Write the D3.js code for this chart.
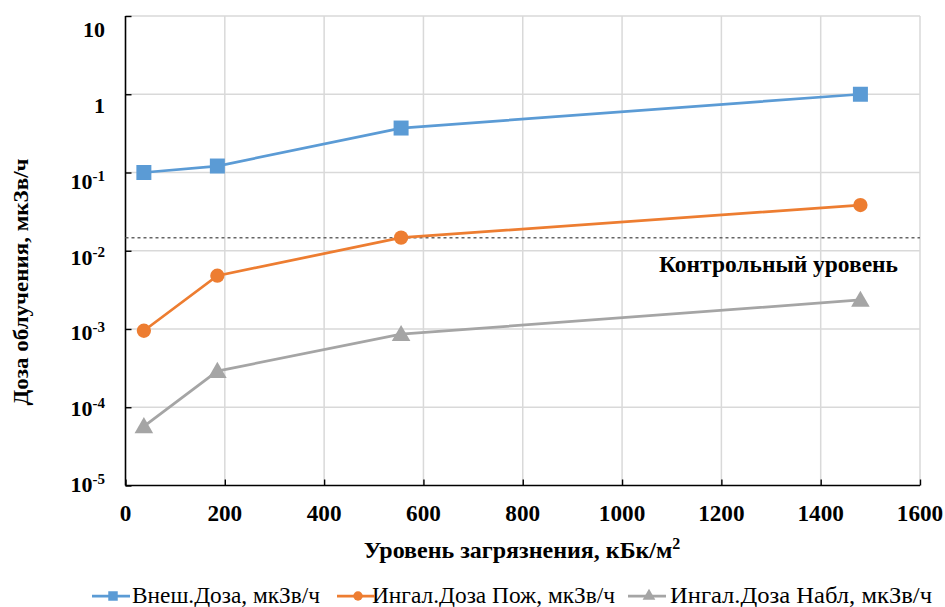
<!DOCTYPE html>
<html>
<head>
<meta charset="utf-8">
<script src="https://cdn.jsdelivr.net/npm/d3@7/dist/d3.min.js"></script>
<style>
  html, body { margin: 0; padding: 0; background: #fff; }
</style>
</head>
<body>
<svg id="chart" width="945" height="607"></svg>
<script>
// Contamination levels, kBq/m2
const levels = [37, 185, 555, 1480];
// Dose rates, uSv/h
const externalDose = [0.1, 0.121, 0.37, 1.0];
const inhalFire = [0.00095, 0.0048, 0.0147, 0.0384];
const inhalObserved = [0.000057, 0.00029, 0.00086, 0.00235];
const controlLevel = 0.0147;

const xTicks = [0, 200, 400, 600, 800, 1000, 1200, 1400, 1600];
const yTicks = [10, 1, 0.1, 0.01, 0.001, 0.0001, 0.00001];
const yTickExp = ["", "", "-1", "-2", "-3", "-4", "-5"];
const yTickBase = ["10", "1", "10", "10", "10", "10", "10"];

const seriesNames = ["Внеш.Доза, мкЗв/ч", "Ингал.Доза Пож, мкЗв/ч", "Ингал.Доза Набл, мкЗв/ч"];
const seriesColors = ["#5B9BD5", "#ED7D31", "#A5A5A5"];
const seriesSymbols = [d3.symbolSquare, d3.symbolCircle, d3.symbolTriangle];
const seriesValues = [externalDose, inhalFire, inhalObserved];

const FONT = "'Liberation Serif', 'Times New Roman', serif";
const svg = d3.select("#chart");
const plot = { left: 125.5, right: 920, top: 16, bottom: 485.5 };

const x = d3.scaleLinear().domain([0, 1600]).range([plot.left, plot.right]);
const y = d3.scaleLog().domain([1e-5, 10]).range([plot.bottom, plot.top]);
// label placement scale for the y tick texts
const yLab = d3.scaleLog().domain([1e-5, 10]).range([485, 30]);

// grid
const grid = svg.append("g").attr("stroke", "#D9D9D9").attr("stroke-width", 1.5);
grid.selectAll(".gx").data(xTicks.slice(1)).join("line")
  .attr("x1", d => x(d)).attr("x2", d => x(d)).attr("y1", plot.top).attr("y2", plot.bottom);
grid.selectAll(".gy").data(yTicks.slice(0, -1)).join("line")
  .attr("x1", plot.left).attr("x2", plot.right).attr("y1", d => y(d)).attr("y2", d => y(d));

// axes (inner ticks)
const xAxis = svg.append("g").attr("transform", `translate(0,${plot.bottom})`)
  .call(d3.axisBottom(x).tickValues(xTicks).tickSize(-6).tickFormat(""));
const yAxis = svg.append("g").attr("transform", `translate(${plot.left},0)`)
  .call(d3.axisLeft(y).tickValues(yTicks).tickSize(-6).tickFormat(""));
[xAxis, yAxis].forEach(a => {
  a.select(".domain").attr("stroke", "#000").attr("stroke-width", 1.6);
  a.selectAll(".tick line").attr("stroke", "#000").attr("stroke-width", 1.4);
  a.selectAll(".tick text").remove();
});
yAxis.select(".domain").attr("d", `M0,${plot.top}V${plot.bottom}`);
xAxis.select(".domain").attr("d", `M${plot.left},0H${plot.right}`);

// text layer
const labels = svg.append("g").style("font-family", FONT).attr("fill", "#000");

// x tick labels
labels.append("g").selectAll("text").data(xTicks).join("text")
  .style("font-family", FONT)
  .attr("x", d => x(d)).attr("y", 521)
  .attr("text-anchor", "middle")
  .style("font-weight", "bold").attr("font-size", 24)
  .attr("textLength", d => String(d).length * 11.6)
  .attr("lengthAdjust", "spacingAndGlyphs")
  .text(d => d);

// y tick labels with superscript exponents
const yl = labels.append("g").selectAll("text").data(yTicks).join("text")
  .style("font-family", FONT)
  .attr("x", 105).attr("y", d => yLab(d) + 7)
  .attr("text-anchor", "end")
  .style("font-weight", "bold").attr("font-size", 22);
yl.append("tspan").text((d, i) => yTickBase[i]);
yl.append("tspan").attr("font-size", 15).attr("dy", -8).text((d, i) => yTickExp[i]);

// control level
svg.append("line")
  .attr("x1", plot.left).attr("x2", plot.right)
  .attr("y1", y(controlLevel)).attr("y2", y(controlLevel))
  .attr("stroke", "#666").attr("stroke-width", 1.5).attr("stroke-dasharray", "3,3");
labels.append("text")
  .style("font-family", FONT)
  .attr("x", 659).attr("y", y(controlLevel) + 34)
  .style("font-weight", "bold").attr("font-size", 24)
  .attr("textLength", 239).attr("lengthAdjust", "spacingAndGlyphs")
  .text("Контрольный уровень");

// series
const line = d3.line().x(d => x(d[0])).y(d => y(d[1]));
seriesValues.forEach((vals, s) => {
  const pts = levels.map((l, i) => [l, vals[i]]);
  svg.append("path").datum(pts)
    .attr("d", line).attr("fill", "none")
    .attr("stroke", seriesColors[s]).attr("stroke-width", 2.75);
  const size = s === 0 ? 225 : (s === 1 ? 160 : 150);
  svg.append("g").selectAll("path").data(pts).join("path")
    .attr("transform", d => `translate(${x(d[0])},${y(d[1]) + (s === 2 ? 1.5 : 0)})`)
    .attr("d", d3.symbol().type(seriesSymbols[s]).size(size))
    .attr("fill", seriesColors[s]);
});

// axis titles
const xt = labels.append("text")
  .style("font-family", FONT)
  .attr("x", 522).attr("y", 558)
  .attr("text-anchor", "middle")
  .style("font-weight", "bold").attr("font-size", 24);
xt.append("tspan").text("Уровень загрязнения, кБк/м");
xt.append("tspan").attr("font-size", 16).attr("dy", -9).text("2");

labels.append("text")
  .style("font-family", FONT)
  .attr("transform", "translate(28,282) rotate(-90)")
  .attr("text-anchor", "middle")
  .style("font-weight", "bold").attr("font-size", 22)
  .attr("textLength", 247).attr("lengthAdjust", "spacingAndGlyphs")
  .text("Доза облучения, мкЗв/ч");

// legend
const legendX = [92, 337, 628];
const legendTextX = [132, 372, 670];
const legendTextW = [188, 243, 262];
const lg = svg.append("g");
seriesNames.forEach((name, i) => {
  const g = lg.append("g");
  g.append("line").attr("x1", legendX[i]).attr("x2", legendX[i] + 38)
    .attr("y1", 596).attr("y2", 596)
    .attr("stroke", seriesColors[i]).attr("stroke-width", 2.75);
  g.append("path")
    .attr("transform", `translate(${legendX[i] + 21},596)`)
    .attr("d", d3.symbol().type(seriesSymbols[i]).size(i === 0 ? 90 : 70))
    .attr("fill", seriesColors[i]);
  labels.append("text").style("font-family", FONT)
    .attr("x", legendTextX[i]).attr("y", 603)
    .attr("font-size", 23)
    .attr("textLength", legendTextW[i]).attr("lengthAdjust", "spacingAndGlyphs")
    .text(name);
});
</script>
</body>
</html>
